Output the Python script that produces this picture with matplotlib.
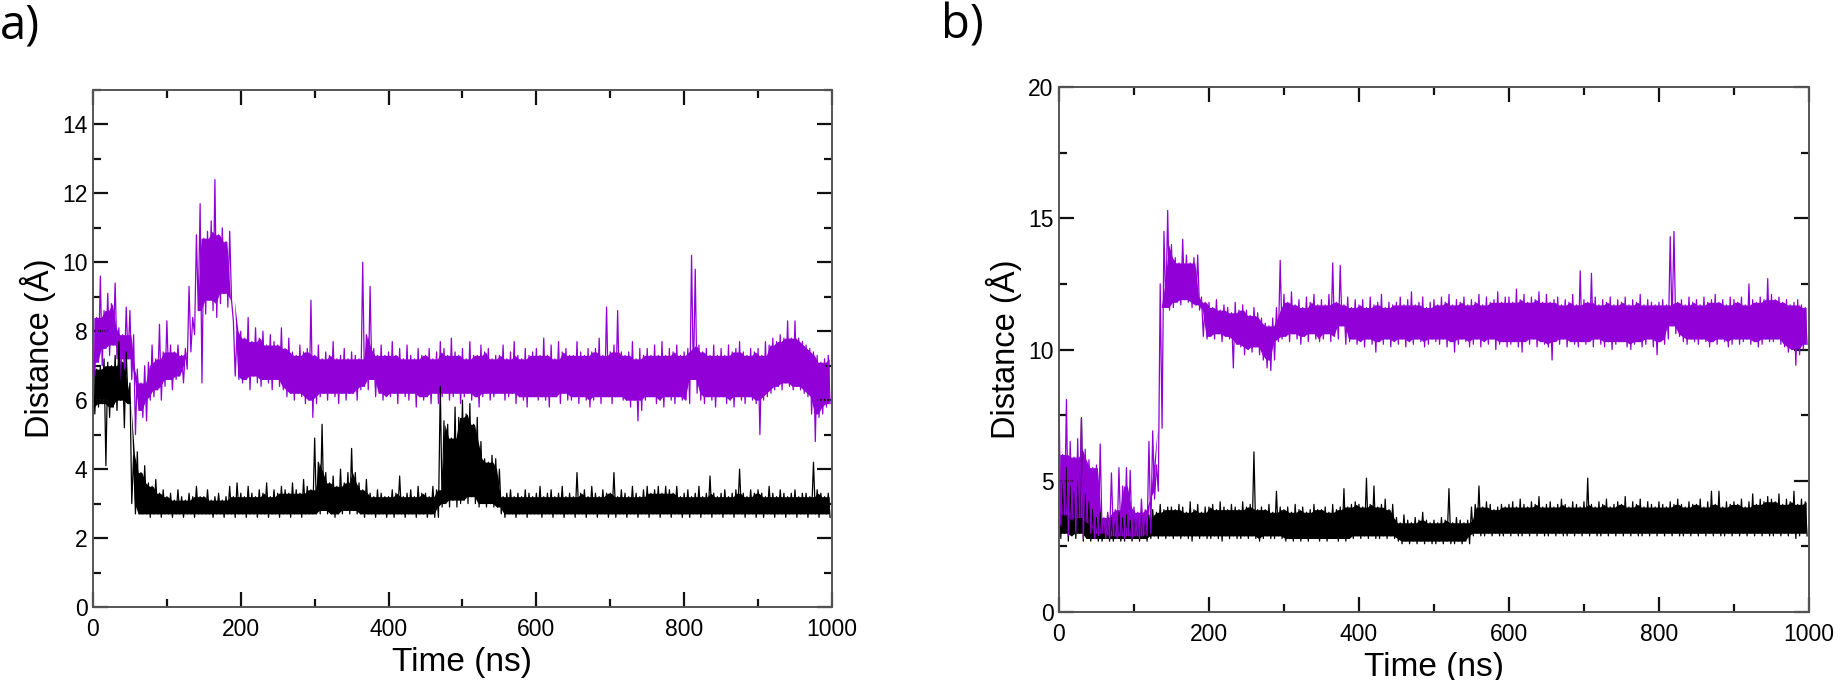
import numpy as np
import matplotlib.pyplot as plt
from matplotlib.ticker import MultipleLocator

# time grid: upper extents at t, lower extents at t + 2.5 ns
time_ns = np.arange(0, 1000, 5)

# panel a) purple trace
a_purple_hi = [
    9.0, 8.4, 9.6, 8.6, 9.1, 8.8, 9.4, 8.1, 7.9, 8.7,
    8.6, 7.9, 6.9, 6.5, 7.0, 7.1, 7.6, 7.2, 8.2, 7.4,
    8.3, 7.6, 7.4, 7.6, 7.3, 7.5, 9.3, 8.4, 10.8, 11.7,
    10.7, 10.9, 11.2, 12.4, 10.8, 11.0, 10.6, 10.9, 8.3, 8.0,
    8.0, 7.8, 8.4, 7.7, 8.1, 7.8, 8.0, 7.6, 7.9, 7.7,
    7.6, 8.1, 7.5, 7.8, 7.4, 7.3, 7.6, 7.4, 7.5, 8.9,
    7.3, 7.6, 7.2, 7.4, 7.3, 7.7, 7.2, 7.3, 7.5, 7.2,
    7.4, 7.3, 7.2, 10.0, 7.9, 9.3, 7.5, 7.3, 7.6, 7.3,
    7.4, 7.7, 7.3, 7.5, 7.2, 7.6, 7.3, 7.2, 7.5, 7.3,
    7.3, 7.5, 7.2, 7.4, 7.7, 7.5, 7.3, 7.8, 7.4, 7.3,
    7.5, 7.2, 7.7, 7.3, 7.3, 7.6, 7.4, 7.5, 7.2, 7.3,
    7.3, 7.6, 7.2, 7.4, 7.7, 7.3, 7.2, 7.5, 7.3, 7.4,
    7.5, 7.3, 7.8, 7.3, 7.6, 7.2, 7.7, 7.4, 7.5, 7.3,
    7.3, 7.7, 7.4, 7.3, 7.5, 7.4, 7.5, 7.8, 7.3, 8.7,
    7.4, 7.6, 8.6, 7.4, 7.3, 7.4, 7.7, 7.2, 7.5, 7.3,
    7.5, 7.3, 7.6, 7.3, 7.7, 7.3, 7.5, 7.4, 7.6, 7.3,
    7.4, 7.5, 10.2, 9.8, 7.6, 7.4, 7.5, 7.3, 7.6, 7.3,
    7.5, 7.3, 7.6, 7.4, 7.5, 7.7, 7.4, 7.3, 7.5, 7.4,
    7.5, 7.3, 7.7, 7.6, 7.8, 7.7, 7.9, 7.8, 8.3, 7.8,
    8.3, 7.8, 7.7, 7.6, 7.5, 7.4, 7.3, 7.1, 7.2, 7.3,
]
a_purple_lo = [
    6.7, 7.1, 7.0, 7.5, 7.3, 7.6, 7.2, 6.6, 6.9, 7.2,
    6.6, 5.0, 5.7, 5.5, 5.4, 6.0, 6.1, 6.3, 6.0, 6.4,
    6.6, 6.3, 6.6, 6.7, 6.5, 6.9, 7.4, 7.9, 8.6, 6.5,
    8.5, 8.9, 8.6, 8.4, 8.8, 9.1, 8.7, 8.9, 6.7, 6.6,
    6.5, 6.6, 6.3, 6.7, 6.5, 6.4, 6.6, 6.5, 6.3, 6.6,
    6.4, 6.3, 6.1, 6.2, 6.0, 6.2, 6.1, 5.9, 6.0, 5.5,
    5.9, 6.1, 6.2, 6.0, 6.2, 6.1, 5.9, 6.2, 6.0, 6.2,
    6.2, 6.0, 6.3, 6.4, 6.3, 6.6, 6.1, 6.2, 6.0, 6.1,
    6.1, 6.2, 5.9, 6.2, 6.1, 6.0, 6.2, 5.8, 6.1, 6.0,
    6.1, 5.9, 6.2, 5.9, 6.1, 6.2, 6.0, 6.1, 6.2, 5.9,
    6.1, 6.2, 6.0, 6.1, 5.8, 6.1, 6.2, 6.0, 6.1, 6.2,
    6.2, 6.0, 6.1, 6.2, 5.9, 6.1, 6.0, 5.8, 6.1, 6.1,
    6.0, 6.1, 6.0, 5.8, 6.1, 6.1, 5.9, 6.2, 6.0, 6.0,
    6.1, 5.9, 6.1, 6.0, 5.8, 6.0, 6.1, 5.9, 6.1, 6.1,
    5.9, 6.1, 6.1, 6.0, 6.0, 5.8, 6.0, 5.4, 5.7, 6.0,
    6.1, 6.1, 5.9, 6.0, 5.8, 6.1, 6.0, 5.9, 6.1, 6.0,
    6.0, 5.9, 6.6, 6.2, 6.0, 5.9, 6.1, 6.0, 5.8, 6.1,
    6.1, 5.9, 6.0, 5.8, 6.1, 6.0, 5.9, 6.1, 6.0, 5.9,
    5.0, 6.0, 6.1, 6.2, 6.3, 6.4, 6.3, 6.5, 6.4, 6.3,
    6.4, 6.3, 6.2, 6.1, 5.6, 4.8, 5.5, 5.6, 5.8, 5.9,
]

# panel a) black trace
a_black_hi = [
    7.3, 6.9, 7.0, 7.2, 7.1, 7.0, 7.3, 7.7, 7.1, 7.4,
    6.5, 4.4, 4.5, 3.9, 4.1, 3.6, 3.5, 3.7, 3.3, 3.4,
    3.2, 3.3, 3.1, 3.4, 3.2, 3.1, 3.3, 3.2, 3.5, 3.2,
    3.2, 3.4, 3.1, 3.2, 3.3, 3.1, 3.2, 3.5, 3.2, 3.6,
    3.3, 3.2, 3.5, 3.3, 3.2, 3.4, 3.3, 3.6, 3.2, 3.4,
    3.3, 3.5, 3.4, 3.3, 3.6, 3.4, 3.3, 3.7, 3.5, 3.4,
    4.9, 4.2, 5.3, 3.9, 3.6, 3.8, 3.5, 4.0, 3.6, 3.9,
    4.6, 3.9, 3.6, 3.4, 3.7, 3.3, 3.2, 3.4, 3.3, 3.2,
    3.2, 3.4, 3.3, 3.8, 3.2, 3.3, 3.4, 3.2, 3.5, 3.3,
    3.3, 3.2, 3.5, 3.4, 6.4, 5.4, 5.3, 4.9, 5.8, 5.5,
    6.0, 5.6, 5.9, 5.3, 5.5, 4.8, 4.3, 4.2, 4.4, 4.3,
    4.0, 3.2, 3.3, 3.4, 3.2, 3.3, 3.2, 3.4, 3.3, 3.2,
    3.3, 3.5, 3.2, 3.3, 3.4, 3.2, 3.3, 3.5, 3.2, 3.3,
    3.2, 3.9, 3.3, 3.4, 3.2, 3.5, 3.3, 3.2, 3.4, 3.3,
    3.3, 3.9, 3.2, 3.4, 3.3, 3.2, 3.5, 3.3, 3.2, 3.4,
    3.5, 3.3, 3.4, 3.5, 3.3, 3.5, 3.4, 3.3, 3.5, 3.2,
    3.3, 3.4, 3.2, 3.3, 3.5, 3.2, 3.3, 3.8, 3.3, 3.2,
    3.3, 3.4, 3.2, 3.3, 3.4, 4.0, 3.3, 3.2, 3.4, 3.3,
    3.4, 3.3, 3.2, 3.5, 3.3, 3.2, 3.4, 3.3, 3.2, 3.3,
    3.4, 3.2, 3.3, 3.3, 3.2, 4.2, 3.4, 3.3, 3.2, 3.3,
]
a_black_lo = [
    5.6, 5.8, 5.9, 4.1, 5.5, 5.8, 5.7, 6.0, 5.2, 5.9,
    3.0, 2.7, 2.7, 2.7, 2.7, 2.6, 2.7, 2.7, 2.6, 2.7,
    2.7, 2.6, 2.7, 2.7, 2.6, 2.7, 2.7, 2.6, 2.7, 2.7,
    2.7, 2.7, 2.6, 2.7, 2.7, 2.6, 2.7, 2.7, 2.6, 2.7,
    2.7, 2.6, 2.7, 2.7, 2.6, 2.7, 2.7, 2.6, 2.7, 2.7,
    2.6, 2.7, 2.7, 2.6, 2.7, 2.7, 2.6, 2.7, 2.7, 2.7,
    2.7, 2.7, 2.8, 2.7, 2.7, 2.6, 2.7, 2.7, 2.8, 2.7,
    2.8, 2.7, 2.7, 2.6, 2.7, 2.7, 2.6, 2.7, 2.7, 2.6,
    2.7, 2.6, 2.7, 2.7, 2.6, 2.7, 2.7, 2.6, 2.7, 2.7,
    2.6, 2.7, 2.6, 2.6, 2.9, 3.0, 2.9, 3.1, 2.9, 3.0,
    3.1, 3.0, 3.2, 3.0, 2.9, 3.0, 2.9, 3.0, 2.9, 2.9,
    2.7, 2.6, 2.7, 2.7, 2.6, 2.7, 2.7, 2.6, 2.7, 2.7,
    2.7, 2.6, 2.7, 2.7, 2.6, 2.7, 2.7, 2.6, 2.7, 2.7,
    2.6, 2.7, 2.7, 2.6, 2.7, 2.7, 2.6, 2.7, 2.7, 2.6,
    2.7, 2.6, 2.7, 2.7, 2.6, 2.7, 2.7, 2.6, 2.7, 2.7,
    2.6, 2.7, 2.7, 2.6, 2.7, 2.7, 2.6, 2.7, 2.7, 2.6,
    2.7, 2.6, 2.7, 2.7, 2.6, 2.7, 2.7, 2.6, 2.7, 2.7,
    2.6, 2.7, 2.7, 2.6, 2.7, 2.7, 2.6, 2.7, 2.7, 2.6,
    2.7, 2.6, 2.7, 2.7, 2.6, 2.7, 2.7, 2.6, 2.7, 2.7,
    2.6, 2.7, 2.7, 2.6, 2.7, 2.7, 2.6, 2.7, 2.7, 2.6,
]

# panel b) purple trace
b_purple_hi = [
    8.1, 6.0, 8.1, 6.5, 5.9, 6.6, 7.4, 6.2, 5.8, 5.5,
    5.6, 6.4, 3.6, 3.8, 5.3, 3.9, 5.5, 4.8, 5.5, 5.4,
    4.0, 3.8, 4.3, 3.9, 6.5, 6.9, 5.6, 12.5, 14.5, 15.3,
    14.0, 13.5, 13.3, 14.2, 13.6, 13.3, 13.5, 13.6, 12.0, 11.8,
    11.8, 11.6, 11.9, 11.5, 11.7, 11.6, 11.4, 11.8, 11.5, 11.7,
    11.5, 11.3, 11.6, 11.4, 11.2, 11.0, 10.9, 11.2, 11.6, 13.4,
    12.1, 11.8, 12.2, 11.7, 11.9, 11.6, 12.0, 11.8, 12.1, 11.7,
    11.9, 11.7, 12.1, 13.3, 11.8, 13.2, 11.7, 12.0, 11.6, 11.9,
    11.7, 11.9, 11.6, 12.0, 11.7, 11.8, 12.1, 11.6, 11.8, 11.7,
    11.8, 12.0, 11.7, 11.9, 12.2, 11.7, 11.8, 12.0, 11.6, 11.8,
    11.9, 11.7, 12.0, 11.8, 12.1, 11.7, 11.9, 11.8, 12.0, 11.7,
    11.9, 11.8, 12.1, 11.7, 12.0, 11.8, 11.9, 12.2, 11.8, 12.0,
    12.0, 11.8, 12.3, 11.9, 12.1, 11.8, 12.0, 11.9, 12.2, 11.8,
    12.1, 11.8, 11.9, 12.0, 11.7, 11.9, 11.8, 12.1, 11.7, 13.0,
    11.9, 11.8, 12.9, 12.0, 11.7, 11.9, 11.8, 12.0, 11.7, 11.9,
    11.8, 12.0, 11.7, 11.9, 11.8, 12.1, 11.7, 11.9, 11.8, 11.7,
    11.8, 11.9, 11.7, 14.3, 14.5, 11.8, 11.9, 11.7, 12.0, 11.8,
    11.9, 11.7, 12.0, 11.8, 11.9, 12.1, 11.8, 11.9, 11.7, 12.0,
    11.9, 11.8, 12.0, 11.7, 12.5, 11.9, 11.8, 12.0, 11.9, 12.7,
    12.1, 11.9, 12.0, 11.8, 11.9, 11.7, 11.8, 11.9, 11.7, 11.6,
]
b_purple_lo = [
    3.3, 3.7, 2.9, 3.5, 3.0, 3.6, 2.8, 3.4, 3.0, 2.8,
    2.9, 3.0, 2.8, 2.8, 2.9, 2.8, 2.9, 2.8, 2.9, 2.8,
    2.9, 2.8, 2.9, 2.9, 3.0, 4.3, 4.6, 7.0, 11.6, 11.5,
    11.6, 11.8, 11.7, 11.9, 11.8, 11.6, 11.7, 11.5, 10.5, 10.4,
    10.5, 10.4, 10.6, 10.3, 10.5, 10.4, 9.3, 10.2, 10.1, 9.8,
    10.0, 9.9, 10.1, 9.8, 9.6, 9.3, 9.2, 9.6, 10.3, 10.4,
    10.5, 10.3, 10.6, 10.4, 10.2, 10.5, 10.3, 10.6, 10.4, 10.3,
    10.4, 10.6, 10.3, 10.5, 10.4, 10.9, 10.2, 10.3, 10.4, 10.2,
    10.3, 10.1, 10.4, 10.2, 9.9, 10.3, 10.2, 10.4, 10.1, 10.3,
    10.2, 10.4, 10.1, 10.3, 10.2, 10.4, 10.3, 10.1, 10.2, 10.4,
    10.3, 10.2, 10.4, 10.1, 10.3, 9.9, 10.2, 10.4, 10.3, 10.1,
    10.2, 10.4, 10.1, 10.3, 10.2, 10.4, 10.0, 10.2, 10.3, 10.1,
    10.2, 10.3, 10.1, 9.9, 10.3, 10.2, 10.4, 10.1, 10.3, 10.2,
    10.1, 9.6, 10.3, 10.2, 10.4, 10.1, 10.3, 10.2, 10.1, 10.3,
    10.2, 10.3, 10.1, 10.4, 10.2, 10.1, 10.3, 10.0, 10.2, 10.3,
    10.3, 10.1, 10.0, 10.2, 10.3, 10.1, 10.2, 10.4, 10.1, 9.8,
    10.3, 10.2, 10.4, 10.9, 10.6, 10.5, 10.3, 10.2, 10.4, 10.3,
    10.2, 10.4, 10.3, 10.1, 10.3, 10.2, 10.4, 10.3, 10.1, 10.2,
    10.4, 10.2, 10.3, 10.4, 10.2, 10.3, 10.1, 10.2, 10.4, 10.3,
    10.3, 10.4, 10.2, 10.1, 9.9, 10.0, 9.4, 9.8, 10.0, 10.2,
]

# panel b) black trace
b_black_hi = [
    7.1, 4.9, 5.5, 4.8, 4.6, 5.0, 7.4, 4.5, 4.2, 3.9,
    3.6, 3.8, 3.5, 3.7, 3.6, 3.5, 3.8, 3.6, 3.7, 3.5,
    3.7, 3.6, 3.8, 3.5, 3.7, 3.9, 3.8, 4.1, 3.9, 4.0,
    4.0, 3.9, 4.1, 4.0, 3.8, 4.2, 3.9, 4.1, 3.8, 4.0,
    4.0, 4.1, 3.9, 4.2, 4.0, 3.9, 4.1, 4.0, 3.9, 4.2,
    4.0, 4.1, 6.1, 3.9, 4.0, 3.9, 4.1, 3.8, 4.6, 4.0,
    3.9, 4.0, 3.8, 4.1, 3.9, 4.0, 3.8, 3.9, 4.1, 3.9,
    3.9, 4.0, 3.8, 4.1, 3.9, 4.0, 4.7, 4.0, 4.1, 4.2,
    4.1, 4.0, 5.1, 4.1, 4.8, 4.0, 4.1, 4.3, 3.9, 4.1,
    3.6, 3.4, 3.7, 3.5, 3.4, 3.6, 3.5, 3.8, 3.5, 3.4,
    3.5, 3.4, 3.6, 3.5, 4.7, 3.4, 3.6, 3.5, 3.4, 3.5,
    4.0, 4.1, 4.8, 4.0, 4.2, 4.1, 3.9, 4.0, 4.1, 4.0,
    4.1, 4.2, 4.0, 4.3, 4.1, 4.0, 4.2, 4.1, 4.4, 4.0,
    4.1, 4.2, 4.0, 4.1, 4.3, 4.1, 4.0, 4.2, 4.1, 4.0,
    4.2, 5.1, 4.1, 4.0, 4.2, 4.1, 4.3, 4.0, 4.1, 4.2,
    4.1, 4.4, 4.0, 4.2, 4.1, 4.3, 4.0, 4.2, 4.1, 4.0,
    4.2, 4.1, 4.0, 4.2, 4.1, 4.3, 4.1, 4.0, 4.2, 4.1,
    4.1, 4.3, 4.0, 4.2, 4.6, 4.1, 4.6, 4.0, 4.2, 4.1,
    4.2, 4.1, 4.3, 4.0, 4.2, 4.5, 4.1, 4.3, 4.2, 4.4,
    4.3, 4.2, 4.5, 4.1, 4.3, 4.2, 4.6, 4.1, 4.3, 4.2,
]
b_black_lo = [
    2.8, 3.0, 2.7, 2.9, 2.8, 3.0, 2.7, 2.8, 2.7, 2.8,
    2.7, 2.7, 2.8, 2.7, 2.7, 2.8, 2.7, 2.7, 2.8, 2.7,
    2.8, 2.7, 2.8, 2.7, 2.8, 2.9, 2.8, 2.9, 2.8, 2.9,
    2.8, 2.9, 2.8, 2.9, 2.8, 2.7, 2.9, 2.8, 2.9, 2.8,
    2.8, 2.9, 2.8, 2.7, 2.9, 2.8, 2.9, 2.8, 2.8, 2.9,
    2.8, 2.9, 2.8, 2.7, 2.8, 2.9, 2.8, 2.8, 2.9, 2.8,
    2.7, 2.8, 2.7, 2.8, 2.7, 2.8, 2.7, 2.8, 2.8, 2.7,
    2.8, 2.7, 2.8, 2.8, 2.7, 2.8, 2.7, 2.8, 2.8, 2.9,
    2.8, 2.9, 2.8, 2.9, 2.8, 2.8, 2.9, 2.8, 2.9, 2.8,
    2.7, 2.6, 2.7, 2.6, 2.7, 2.6, 2.7, 2.6, 2.7, 2.6,
    2.6, 2.7, 2.6, 2.7, 2.6, 2.6, 2.7, 2.6, 2.7, 2.6,
    2.9, 3.0, 2.9, 2.9, 3.0, 2.9, 3.0, 2.9, 2.9, 3.0,
    2.9, 3.0, 2.9, 2.9, 3.0, 2.9, 3.0, 2.9, 3.0, 2.9,
    2.9, 3.0, 2.9, 3.0, 2.9, 2.9, 3.0, 2.9, 3.0, 2.9,
    3.0, 2.9, 3.0, 2.9, 2.9, 3.0, 2.9, 3.0, 2.9, 3.0,
    2.9, 3.0, 2.9, 3.0, 2.9, 2.9, 3.0, 2.9, 3.0, 2.9,
    3.0, 2.9, 3.0, 2.9, 3.0, 2.9, 2.9, 3.0, 2.9, 3.0,
    2.9, 3.0, 2.9, 3.0, 2.9, 3.0, 2.9, 2.9, 3.0, 2.9,
    3.0, 2.9, 3.0, 2.9, 3.0, 2.9, 3.0, 2.9, 3.0, 2.9,
    2.9, 3.0, 2.9, 3.0, 2.9, 3.0, 2.8, 2.9, 3.0, 2.9,
]

PURPLE = "#9100d6"
BLACK = "#000000"

plt.rcParams["font.family"] = ["Liberation Sans", "DejaVu Sans"]


def draw_trace(ax, hi, lo, color):
    hi = np.asarray(hi)
    lo = np.asarray(lo)
    # solid core: drop isolated spikes by taking the neighbourhood min/max
    hp = np.pad(hi, 1, mode="edge")
    lp = np.pad(lo, 1, mode="edge")
    core_hi = np.minimum(np.minimum(hp[:-2], hp[1:-1]), hp[2:])
    core_lo = np.maximum(np.maximum(lp[:-2], lp[1:-1]), lp[2:])
    core_hi = np.maximum(core_hi, core_lo)
    ax.fill_between(time_ns + 1.25, core_lo, core_hi, color=color, lw=0)
    # fluctuations: alternate between upper and lower extent
    x = np.empty(2 * len(time_ns))
    y = np.empty(2 * len(time_ns))
    x[0::2] = time_ns
    x[1::2] = time_ns + 2.5
    y[0::2] = hi
    y[1::2] = lo
    ax.plot(x, y, color=color, lw=0.9)


def style_axes(ax, ymax, ymajor, yminor):
    ax.set_xlim(0, 1000)
    ax.set_ylim(0, ymax)
    ax.xaxis.set_major_locator(MultipleLocator(200))
    ax.xaxis.set_minor_locator(MultipleLocator(100))
    ax.yaxis.set_major_locator(MultipleLocator(ymajor))
    ax.yaxis.set_minor_locator(MultipleLocator(yminor))
    ax.tick_params(which="both", direction="in", top=True, right=True,
                   color="#111111", labelsize=16.5)
    ax.tick_params(which="major", length=11, width=1.6)
    ax.tick_params(which="minor", length=6, width=1.6)
    ax.tick_params(axis="y", pad=4)
    ax.tick_params(axis="x", pad=8)
    for sp in ax.spines.values():
        sp.set_color("#555555")
        sp.set_linewidth(1.4)
    ax.set_xlabel("Time (ns)", fontsize=24, labelpad=4)
    ax.set_ylabel("Distance (Å)", fontsize=23.5, labelpad=4)


fig = plt.figure(figsize=(18.41, 6.8), dpi=100)

ax_a = fig.add_axes([0.0505, 0.1074, 0.4014, 0.7603])
draw_trace(ax_a, a_purple_hi, a_purple_lo, PURPLE)
draw_trace(ax_a, a_black_hi, a_black_lo, BLACK)
style_axes(ax_a, 15, 2, 1)

ax_b = fig.add_axes([0.5752, 0.1, 0.4074, 0.772])
draw_trace(ax_b, b_black_hi, b_black_lo, BLACK)
draw_trace(ax_b, b_purple_hi, b_purple_lo, PURPLE)
style_axes(ax_b, 20, 5, 2.5)

fig.text(0.0, 0.997, "a)", fontsize=34, family="Open Sans", va="top", ha="left")
fig.text(0.511, 0.997, "b)", fontsize=34, family="Open Sans", va="top", ha="left")

fig.savefig("out.png", dpi=100)
